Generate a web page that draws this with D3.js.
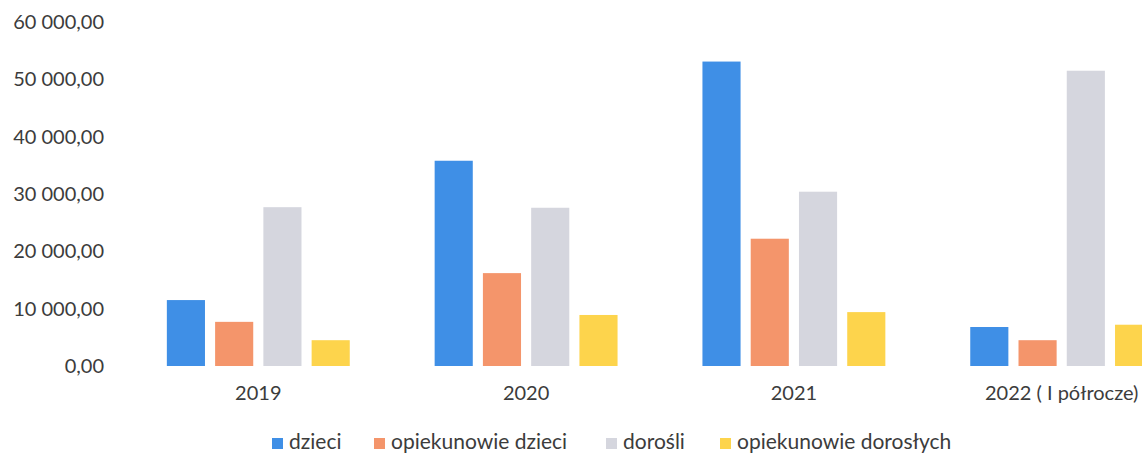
<!DOCTYPE html>
<html>
<head>
<meta charset="utf-8">
<script src="https://cdn.jsdelivr.net/npm/d3@7"></script>
<style>
  body { margin: 0; background: #fff; }
  text { font-family: Lato, "Open Sans", sans-serif; fill: #3c3c3c; }
</style>
</head>
<body>
<script>
var width = 1142,
    height = 455;

var categories = ["2019", "2020", "2021", "2022 ( I półrocze)"];
var seriesNames = ["dzieci", "opiekunowie dzieci", "dorośli", "opiekunowie dorosłych"];
var colors = ["#3f8fe6", "#f4956b", "#d5d6de", "#fdd44c"];
var dzieci = [11500, 35800, 53100, 6800];
var opiekunowieDzieci = [7700, 16200, 22200, 4500];
var dorosli = [27700, 27600, 30400, 51500];
var opiekunowieDoroslych = [4500, 8900, 9400, 7200];
var yTicks = [0, 10000, 20000, 30000, 40000, 50000, 60000];

var series = [dzieci, opiekunowieDzieci, dorosli, opiekunowieDoroslych];

var svg = d3.select("body").append("svg")
    .attr("width", width)
    .attr("height", height);

var x = d3.scaleBand()
    .domain(categories)
    .range([124, 1196])
    .paddingInner(0.317)
    .paddingOuter(0.16);

var xs = d3.scaleBand()
    .domain(d3.range(series.length))
    .range([0, x.bandwidth()])
    .paddingInner(0.21);

var y = d3.scaleLinear()
    .domain([0, 60000])
    .range([366, 22]);

var fmt = function (v) {
  return d3.format(",.2f")(v).replace(/,/g, " ").replace(".", ",");
};

// y axis labels
var yAxis = svg.append("g")
    .attr("transform", "translate(104,0)")
    .call(d3.axisLeft(y).tickValues(yTicks).tickFormat(fmt).tickSize(0).tickPadding(0));
yAxis.select(".domain").remove();
yAxis.selectAll("text").attr("font-size", 20).attr("font-family", "Lato, 'Open Sans', sans-serif").attr("fill", "#3c3c3c");

// bars
var groups = svg.append("g").selectAll("g")
    .data(categories)
    .enter().append("g")
      .attr("transform", function (c) { return "translate(" + x(c) + ",0)"; });

groups.selectAll("rect")
    .data(function (c, i) { return series.map(function (s, j) { return { j: j, v: s[i] }; }); })
    .enter().append("rect")
      .attr("x", function (d) { return xs(d.j); })
      .attr("width", xs.bandwidth())
      .attr("y", function (d) { return y(d.v); })
      .attr("height", function (d) { return y(0) - y(d.v); })
      .attr("fill", function (d) { return colors[d.j]; });

// x axis labels
var xAxis = svg.append("g")
    .attr("transform", "translate(0,386)")
    .call(d3.axisBottom(x).tickSize(0).tickPadding(0));
xAxis.select(".domain").remove();
xAxis.selectAll("text").attr("font-size", 20).attr("font-family", "Lato, 'Open Sans', sans-serif").attr("fill", "#3c3c3c");

// legend
var legendX = [272, 374, 606, 720];
var legend = svg.append("g").selectAll("g")
    .data(seriesNames)
    .enter().append("g")
      .attr("transform", function (d, i) { return "translate(" + legendX[i] + ",438)"; });

legend.append("rect")
    .attr("width", 11)
    .attr("height", 11)
    .attr("fill", function (d, i) { return colors[i]; });

legend.append("text")
    .attr("x", 17)
    .attr("y", 11)
    .attr("font-size", 21)
    .text(function (d) { return d; });
</script>
</body>
</html>
